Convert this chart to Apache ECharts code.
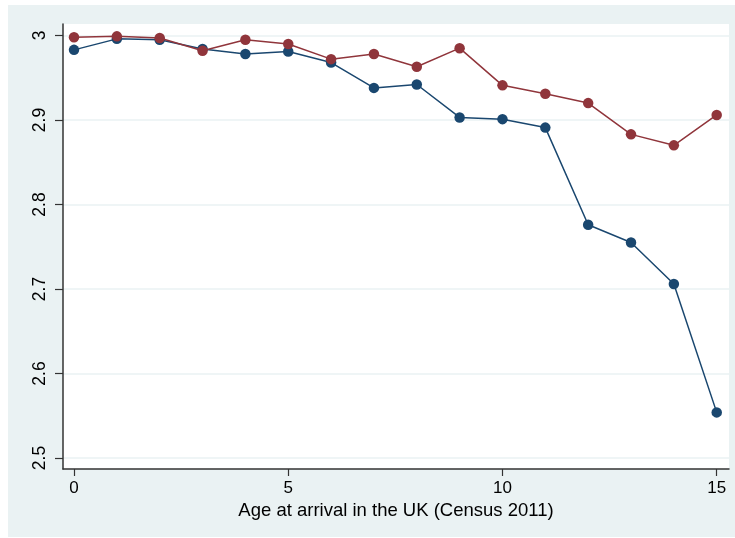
<!DOCTYPE html>
<html>
<head>
<meta charset="utf-8">
<script src="https://cdn.jsdelivr.net/npm/echarts@6/dist/echarts.min.js"></script>
<style>
  html, body { margin: 0; padding: 0; background: #ffffff; }
  #chart { width: 735px; height: 538px; }
</style>
</head>
<body>
<div id="chart"></div>
<script>
// Age at arrival (years)
const ages = [0, 1, 2, 3, 4, 5, 6, 7, 8, 9, 10, 11, 12, 13, 14, 15];
// Mean outcome by age at arrival, two groups
const seriesBlue = [2.983, 2.996, 2.995, 2.984, 2.978, 2.981, 2.968, 2.938, 2.942, 2.903, 2.901, 2.891, 2.776, 2.755, 2.706, 2.554];
const seriesRed  = [2.998, 2.999, 2.997, 2.982, 2.995, 2.990, 2.972, 2.978, 2.963, 2.985, 2.941, 2.931, 2.920, 2.883, 2.870, 2.906];
const xTicks = [0, 5, 10, 15];
const yTicks = [2.5, 2.6, 2.7, 2.8, 2.9, 3];
const xTitle = 'Age at arrival in the UK (Census 2011)';

const chart = echarts.init(document.getElementById('chart'));
const font = 'Liberation Sans, Arial, Helvetica, sans-serif';

function pairs(vals) { return ages.map((a, i) => [a, vals[i]]); }

chart.setOption({
  animation: false,
  backgroundColor: '#ffffff',
  graphic: [{
    type: 'rect', z: -10, silent: true,
    shape: { x: 8, y: 5, width: 727, height: 532 },
    style: { fill: '#eaf2f3' }
  }],
  grid: {
    left: 63, right: 6, top: 24, bottom: 69,
    show: true, backgroundColor: '#ffffff', borderWidth: 0
  },
  xAxis: {
    type: 'value',
    min: -0.257, max: 15.287,
    name: xTitle, nameLocation: 'middle', nameGap: 31,
    nameTextStyle: { color: '#000', fontSize: 18.5, fontFamily: font },
    axisLine: { show: true, onZero: false, lineStyle: { color: '#333', width: 1.5 } },
    axisTick: { show: true, length: 7, lineStyle: { color: '#333', width: 1.2 },
      customValues: xTicks },
    axisLabel: { color: '#000', fontSize: 17, fontFamily: font, margin: 11,
      customValues: xTicks },
    splitLine: { show: false }
  },
  yAxis: {
    type: 'value',
    min: 2.487, max: 3.0136,
    axisLine: { show: true, onZero: false, lineStyle: { color: '#333', width: 1.5 } },
    axisTick: { show: true, length: 8, lineStyle: { color: '#333', width: 1.2 },
      customValues: yTicks },
    axisLabel: { color: '#000', fontSize: 17.5, fontFamily: font, rotate: 90, margin: 14,
      align: 'center', verticalAlign: 'bottom', customValues: yTicks,
      formatter: v => String(Math.round(v * 10) / 10) },
    splitLine: { show: true, lineStyle: { color: '#eaf2f3', width: 1.5 } }
  },
  series: [{
    type: 'line', data: pairs(seriesBlue),
    symbol: 'circle', symbolSize: 10.5,
    lineStyle: { color: '#1a476f', width: 1.5 },
    itemStyle: { color: '#1a476f' }, z: 2
  }, {
    type: 'line', data: pairs(seriesRed),
    symbol: 'circle', symbolSize: 10.5,
    lineStyle: { color: '#90353b', width: 1.5 },
    itemStyle: { color: '#90353b' }, z: 3
  }]
});
</script>
</body>
</html>
